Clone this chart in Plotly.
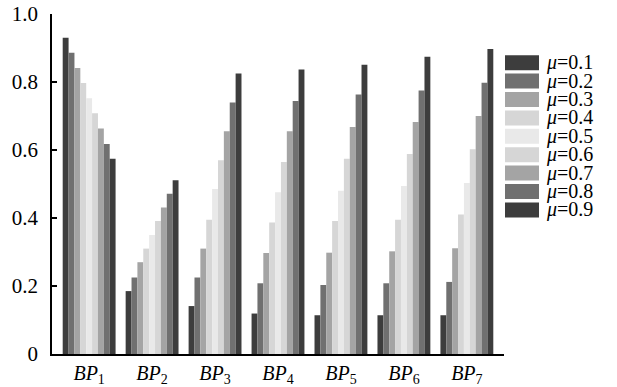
import plotly.graph_objects as go

categories = ["BP1", "BP2", "BP3", "BP4", "BP5", "BP6", "BP7"]
tick_labels = ["<i>BP</i><sub>%d</sub>" % i for i in range(1, 8)]
mu_labels = ["0.1", "0.2", "0.3", "0.4", "0.5", "0.6", "0.7", "0.8", "0.9"]

mu01 = [0.930, 0.185, 0.141, 0.119, 0.114, 0.114, 0.114]
mu02 = [0.886, 0.225, 0.225, 0.208, 0.203, 0.208, 0.212]
mu03 = [0.841, 0.270, 0.310, 0.297, 0.298, 0.302, 0.311]
mu04 = [0.797, 0.310, 0.395, 0.387, 0.391, 0.395, 0.410]
mu05 = [0.752, 0.350, 0.485, 0.476, 0.480, 0.494, 0.503]
mu06 = [0.708, 0.391, 0.570, 0.565, 0.574, 0.588, 0.602]
mu07 = [0.663, 0.431, 0.655, 0.655, 0.668, 0.682, 0.700]
mu08 = [0.618, 0.471, 0.740, 0.744, 0.763, 0.775, 0.798]
mu09 = [0.574, 0.511, 0.825, 0.837, 0.851, 0.874, 0.897]
series = [mu01, mu02, mu03, mu04, mu05, mu06, mu07, mu08, mu09]

colors = ["#3d3d3d", "#707070", "#a4a4a4", "#d6d6d6", "#e9e9e9",
          "#d6d6d6", "#a4a4a4", "#707070", "#3d3d3d"]

x_pos = list(range(len(categories)))
FONT = "Liberation Serif"

fig = go.Figure()
for lab, vals, col in zip(mu_labels, series, colors):
    fig.add_trace(go.Bar(
        x=x_pos, y=vals, name="<i>μ</i>=" + lab,
        marker=dict(color=col, line=dict(width=0)),
        showlegend=False,
    ))

# Legend drawn as swatches + labels to the right of the plot area
W, H = 617, 387
ML, MR, MT, MB = 52, 113, 14, 33
pw, ph = W - ML - MR, H - MT - MB

def px_to_paper_x(px):
    return (px - ML) / pw

def px_to_paper_y(py):
    return (H - MB - py) / ph

row0, step = 62.7, 18.4
for i, (lab, col) in enumerate(zip(mu_labels, colors)):
    cy = row0 + i * step
    fig.add_shape(type="rect", xref="paper", yref="paper",
                  x0=px_to_paper_x(505), x1=px_to_paper_x(539),
                  y0=px_to_paper_y(cy + 7.5), y1=px_to_paper_y(cy - 7.5),
                  fillcolor=col, line=dict(width=0))
    fig.add_annotation(xref="paper", yref="paper",
                       x=px_to_paper_x(545), y=px_to_paper_y(cy),
                       xanchor="left", yanchor="middle", showarrow=False,
                       text="<i>μ</i>=" + lab, borderpad=0,
                       font=dict(family=FONT, size=20, color="black"))

fig.update_layout(
    width=W, height=H,
    margin=dict(l=ML, r=MR, t=MT, b=MB, autoexpand=False),
    paper_bgcolor="white", plot_bgcolor="white",
    barmode="group", bargap=0.16, bargroupgap=0,
    font=dict(family=FONT, size=18, color="black"),
    showlegend=False,
    xaxis=dict(range=[-0.59, 6.59], tickvals=x_pos, ticktext=tick_labels,
               showline=True, linecolor="black", linewidth=1.5,
               ticks="", showgrid=False, zeroline=False, automargin=False,
               tickfont=dict(family=FONT, size=20)),
    yaxis=dict(range=[0, 1.0], tickvals=[0, 0.2, 0.4, 0.6, 0.8, 1.0],
               ticktext=["0", "0.2", "0.4", "0.6", "0.8", "1.0"],
               showline=True, linecolor="black", linewidth=1.5,
               ticks="inside", ticklen=5, tickwidth=1.5, tickcolor="black",
               showgrid=False, zeroline=False, ticklabelstandoff=8,
               automargin=False,
               tickfont=dict(family=FONT, size=21)),
)

fig.write_html("out.html",
               config={"displayModeBar": False},
               post_script="document.body.style.margin='0';"
                           "document.body.style.padding='0';")
